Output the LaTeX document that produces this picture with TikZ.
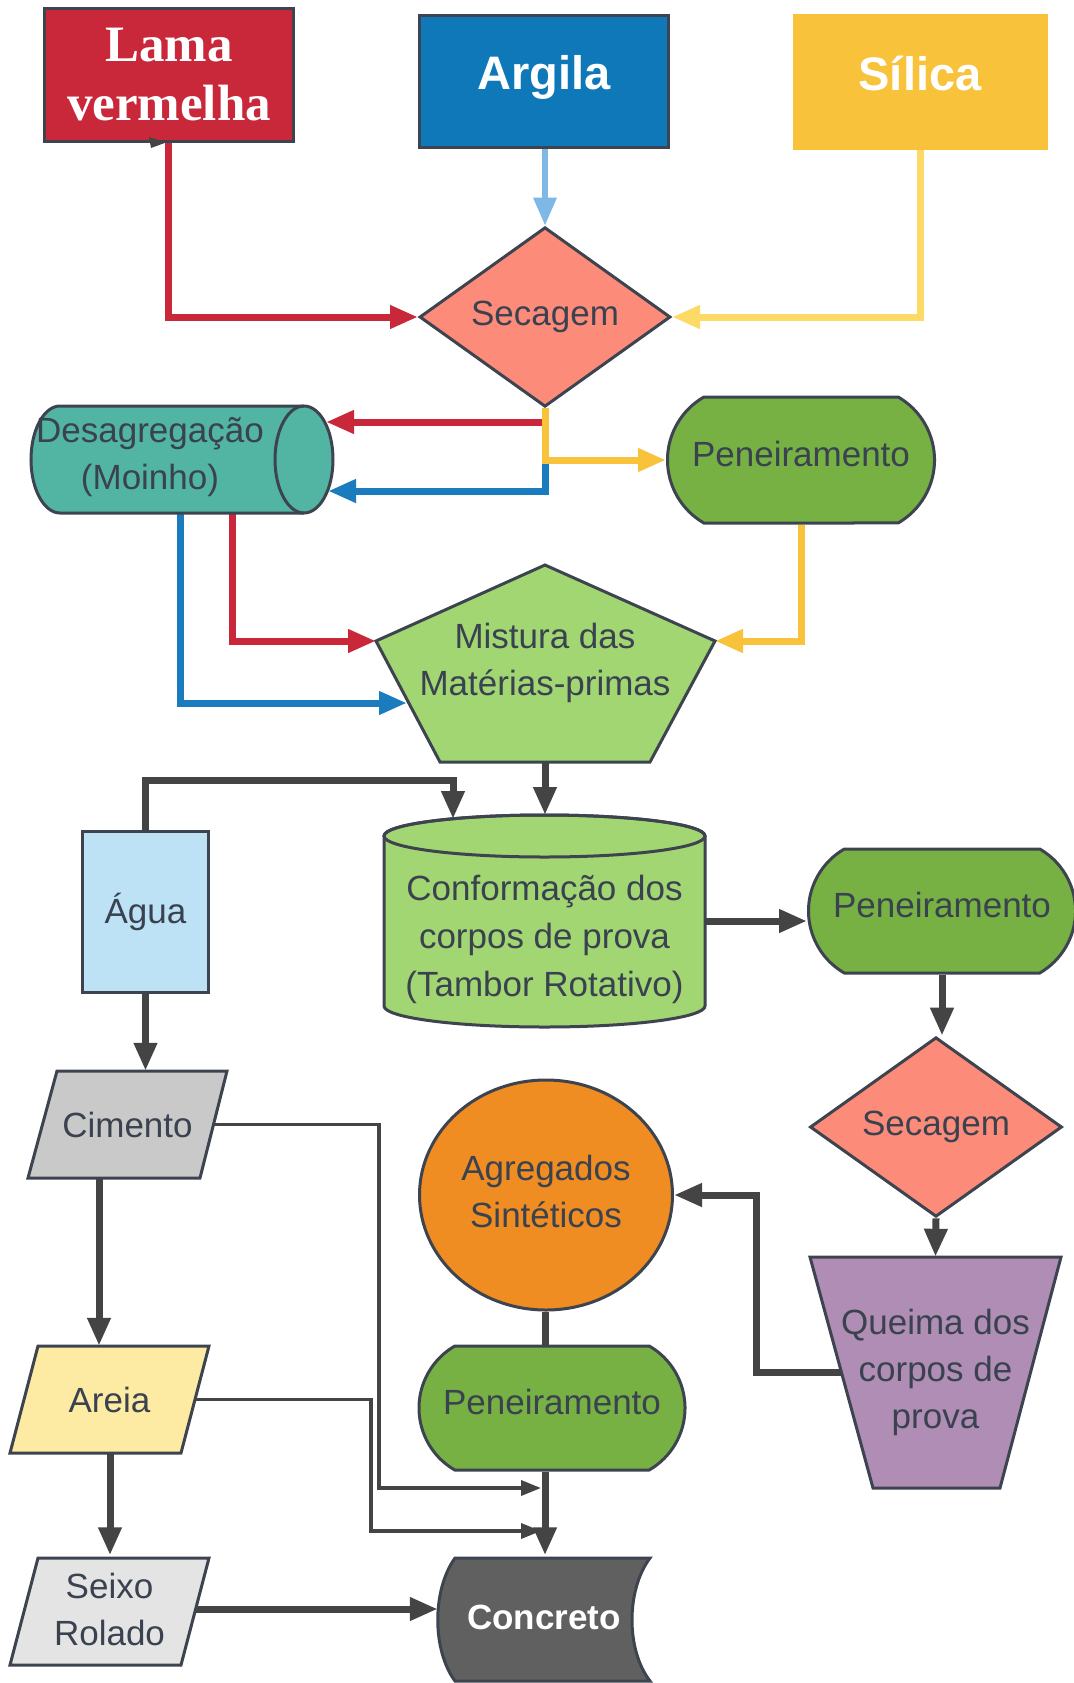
\documentclass[tikz,border=0pt]{standalone}
\usepackage{fontspec}
\setmainfont{Liberation Sans}
\newfontfamily\lamafont{Liberation Serif}
\usetikzlibrary{shapes.geometric,shapes.misc,arrows.meta,calc}
\pgfdeclarelayer{back}
\pgfdeclarelayer{bg}
\pgfsetlayers{back,bg,main}
\definecolor{ol}{HTML}{3D4450}
\definecolor{tx}{HTML}{3A4250}
\definecolor{dk}{HTML}{444444}
\definecolor{lamaC}{HTML}{C8283A}
\definecolor{argC}{HTML}{0F78B8}
\definecolor{silC}{HTML}{F8C23A}
\definecolor{secC}{HTML}{FC8B7A}
\definecolor{desC}{HTML}{52B4A3}
\definecolor{penC}{HTML}{77B043}
\definecolor{misC}{HTML}{A2D672}
\definecolor{aguC}{HTML}{BDE2F6}
\definecolor{cimC}{HTML}{C9C9C9}
\definecolor{agrC}{HTML}{EF8C22}
\definecolor{queC}{HTML}{B08DB5}
\definecolor{areC}{HTML}{FDEAA3}
\definecolor{seiC}{HTML}{E4E4E4}
\definecolor{conC}{HTML}{606060}
\definecolor{redL}{HTML}{C8283A}
\definecolor{bluL}{HTML}{1A7BBF}
\definecolor{yelL}{HTML}{F8C23A}
\definecolor{ltbL}{HTML}{7DB8E6}
\definecolor{ltyL}{HTML}{FDD966}
\begin{document}
\begin{tikzpicture}[x=1pt,y=-1pt,line join=miter,
  shp/.style={draw=ol, line width=3pt, inner sep=0pt, align=center, text=tx, font=\fontsize{35}{47}\selectfont},
  lbl/.style={inner sep=0pt, align=center, text=tx, font=\fontsize{35}{47}\selectfont},
  outl/.style={draw=ol, line width=3pt},
  con/.style={line width=7pt, -{Triangle[length=28pt,width=22pt]}},
  thinc/.style={line width=3.5pt, draw=dk, -{Triangle[length=20pt,width=15pt]}},
  pen/.style={shp, rounded rectangle, rounded rectangle arc length=120, fill=penC, text height=26pt, text depth=14pt}
]
\useasboundingbox (0,0) rectangle (1073,1683);
\begin{pgfonlayer}{back}
\fill[white] (0,0) rectangle (1073,1683);
\end{pgfonlayer}

% ---------- top sources ----------
\node[shp, fill=lamaC, minimum width=249pt, minimum height=133pt, text=white,
      font=\lamafont\bfseries\fontsize{51}{59}\selectfont] (lama) at (169,75) {Lama\\vermelha};
\fill[dk] (149,137) -- (166,142.5) -- (151,148) -- cycle;
\node[shp, fill=argC, minimum width=249pt, minimum height=132pt, text=white, text height=34pt, text depth=17pt,
      font=\bfseries\fontsize{47}{56}\selectfont] (argila) at (544,81.5) {Argila};
\node[shp, draw=silC, fill=silC, minimum width=252pt, minimum height=133pt, text=white, text height=34pt, text depth=17pt,
      font=\bfseries\fontsize{47}{56}\selectfont] (silica) at (920,82) {Sílica};

% ---------- Secagem 1 ----------
\node[shp, diamond, fill=secC, minimum width=251pt, minimum height=177pt] (sec1) at (545,317) {Secagem};

% ---------- Desagregacao (horizontal cylinder) ----------
\filldraw[outl, fill=desC] (60,406) -- (304,406)
  arc[start angle=90, end angle=-90, x radius=29pt, y radius=53.5pt]
  -- (60,513) arc[start angle=-90, end angle=-270, x radius=29pt, y radius=53.5pt] -- cycle;
\draw[outl] (304,406) arc[start angle=90, end angle=270, x radius=29pt, y radius=53.5pt];
\node[inner sep=0pt, minimum width=303pt, minimum height=107pt] (desag) at (181.5,459.5) {};
\node[lbl] (desagT) at (150,457) {Desagregação\\(Moinho)};
\coordinate (dR1) at (326,422);
\coordinate (dR2) at (328,491);

% ---------- Peneiramento 1 ----------
\node[pen, minimum width=267pt, minimum height=126pt] (pen1) at (801,460) {Peneiramento};

% ---------- Mistura (pentagon) ----------
\filldraw[outl, fill=misC] (545,565) -- (715,641) -- (650,762) -- (440,762) -- (376,641) -- cycle;
\node[lbl, minimum width=339pt, minimum height=197pt] (mis) at (545,663) {Mistura das\\Matérias-primas};
\coordinate (mL) at (376,641);
\coordinate (mR) at (715,641);
\coordinate (mBL) at (407,703);
\coordinate (mB) at (545,762);

% ---------- Conformacao (vertical cylinder) ----------
\filldraw[outl, fill=misC] (384,836) -- (384,1006)
  arc[start angle=180, end angle=360, x radius=160.5pt, y radius=21pt]
  -- (705,836) arc[start angle=0, end angle=180, x radius=160.5pt, y radius=21pt] -- cycle;
\draw[outl] (544.5,836) ellipse[x radius=160.5pt, y radius=21pt];
\node[inner sep=0pt, minimum width=321pt, minimum height=212pt] (conf) at (544.5,921) {};
\node[lbl, font=\fontsize{35}{48}\selectfont] (confT) at (544.5,939) {Conformação dos\\corpos de prova\\(Tambor Rotativo)};
\coordinate (cT) at (545,815);
\coordinate (cTL) at (453,819);
\coordinate (cE) at (705,921);

% ---------- Agua ----------
\node[shp, fill=aguC, minimum width=126pt, minimum height=161pt] (agua) at (145.5,911.5) {Água};

% ---------- Peneiramento 2, Secagem 2, Queima ----------
\node[pen, minimum width=267pt, minimum height=124pt] (pen2) at (942,911) {Peneiramento};
\node[shp, diamond, fill=secC, minimum width=252pt, minimum height=177pt] (sec2) at (936,1127) {Secagem};
\filldraw[outl, fill=queC] (810,1257) -- (1061,1257) -- (1000,1488) -- (873,1488) -- cycle;
\node[lbl, minimum width=251pt, minimum height=231pt] (queima) at (935.5,1372.5) {Queima dos\\corpos de\\prova};

% ---------- Agregados ----------
\node[shp, ellipse, fill=agrC, minimum width=253pt, minimum height=230pt] (agreg) at (546,1195) {};
\node[lbl] (agregT) at (546,1191) {Agregados\\Sintéticos};

% ---------- Cimento, Areia, Seixo ----------
\filldraw[outl, fill=cimC] (57,1071) -- (227,1071) -- (200,1178) -- (28,1178) -- cycle;
\node[lbl, minimum width=199pt, minimum height=107pt] (cim) at (127.5,1124.5) {Cimento};
\filldraw[outl, fill=areC] (38,1346) -- (209,1346) -- (181,1453) -- (10,1453) -- cycle;
\node[lbl, minimum width=199pt, minimum height=107pt] (are) at (109.5,1399.5) {Areia};
\filldraw[outl, fill=seiC] (38,1558) -- (209,1558) -- (181,1665) -- (10,1665) -- cycle;
\node[lbl, minimum width=199pt, minimum height=107pt] (sei) at (109.5,1609) {Seixo\\Rolado};

% ---------- Peneiramento 3 ----------
\node[pen, minimum width=266pt, minimum height=124pt] (pen3) at (552,1408) {Peneiramento};

% ---------- Concreto ----------
\filldraw[outl, fill=conC] (455,1558) -- (650,1558)
  .. controls (626,1590) and (626,1650) .. (650,1681) -- (455,1681)
  .. controls (432,1650) and (432,1590) .. (455,1558) -- cycle;
\node[lbl, text=white, font=\bfseries\fontsize{35}{47}\selectfont, minimum width=212pt, minimum height=123pt] (conc) at (544,1617) {Concreto};
\coordinate (tA) at (541,1488);
\coordinate (tB) at (541,1531);

% ---------- connectors ----------
\begin{pgfonlayer}{bg}
\draw[con, draw=redL] ($(lama.south)+(-1,0)$) |- (sec1.west);
\draw[con, draw=ltbL, line width=6pt] (argila.south -| sec1.north) -- (sec1.north);
\draw[con, draw=ltyL] (silica.south) |- (sec1.east);
\draw[con, draw=redL] (sec1.south) |- (dR1);
\draw[con, draw=bluL] (sec1.south |- pen1.west) |- (dR2);
\draw[con, draw=yelL] (sec1.south) |- (pen1.west);
\draw[con, draw=redL] ($(desag.south)+(51,-10)$) |- (mL);
\draw[con, draw=bluL] ($(desag.south)+(-1,-10)$) |- (mBL);
\draw[con, draw=yelL] (pen1.south) |- (mR);
\draw[con, draw=dk] (mB) -- (cT);
\draw[con, draw=dk] (agua.north) -- ++(0,-49) -| (cTL);
\draw[con, draw=dk] (cE) -- (cE -| pen2.west);
\draw[con, draw=dk] (pen2.south) -- (pen2.south |- sec2.north);
\draw[con, draw=dk] (sec2.south) -- (queima.north);
\draw[con, draw=dk] (queima.center) -- ++(-179,0) |- (agreg.east);
\draw[con, draw=dk] (agua.south) -- (agua.south |- cim.north);
\draw[con, draw=dk] (cim.south -| 99,0) -- (are.north -| 99,0);
\draw[con, draw=dk] (are.south -| 110,0) -- (sei.north -| 110,0);
\draw[thinc] (cim.center) -| (379,1488) -- (tA);
\draw[thinc] (are.center) -| (371,1531) -- (tB);
\draw[draw=dk, line width=7pt] (agreg.south -| 545,0) -- (pen3.north -| 545,0);
\draw[con, draw=dk] (pen3.south -| 545,0) -- (conc.north -| 545,0);
\draw[con, draw=dk] (sei.center) -- (sei.center -| conc.west);
\end{pgfonlayer}
\end{tikzpicture}
\end{document}
